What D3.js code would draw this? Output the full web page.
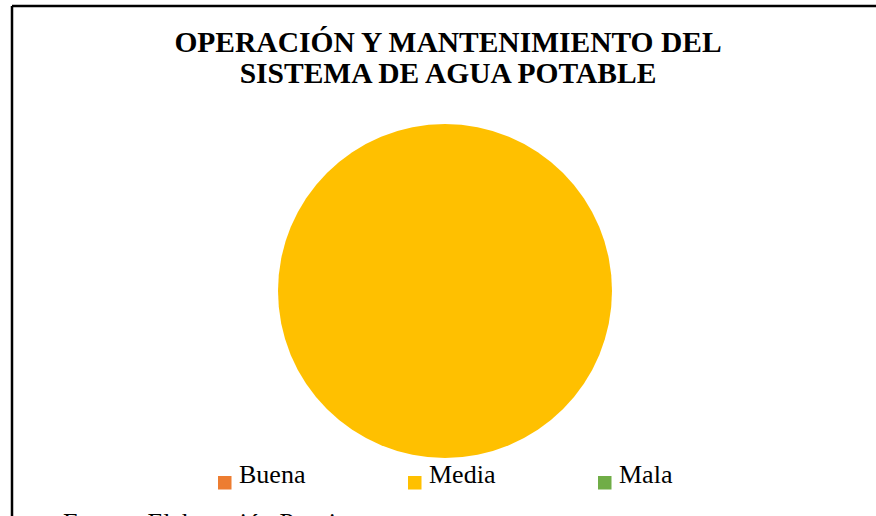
<!DOCTYPE html>
<html>
<head>
<meta charset="utf-8">
<script src="https://cdn.jsdelivr.net/npm/d3@7/dist/d3.min.js"></script>
<style>
  html, body { margin: 0; padding: 0; background: #fff; }
  svg { display: block; }
</style>
</head>
<body>
<svg id="chart" width="876" height="516"></svg>
<script>
// Estado de operación y mantenimiento (% de sistemas)
const categories = ["Buena", "Media", "Mala"];
const values = [0, 100, 0];
const colors = ["#ED7D31", "#FFC000", "#70AD47"];
const titleLines = ["OPERACIÓN Y MANTENIMIENTO DEL", "SISTEMA DE AGUA POTABLE"];
const sourceNote = "Fuente: Elaboración Propia";

const svg = d3.select("#chart");
const W = 876, H = 516;
const serif = "'Liberation Serif', 'Times New Roman', serif";

// Frame (top and left edges visible)
svg.append("line").attr("x1", 12).attr("y1", 6).attr("x2", W).attr("y2", 6)
  .attr("stroke", "#000").attr("stroke-width", 2.5);
svg.append("line").attr("x1", 12).attr("y1", 6).attr("x2", 12).attr("y2", H)
  .attr("stroke", "#000").attr("stroke-width", 2.5);

// Title
svg.append("g").selectAll("text").data(titleLines).join("text")
  .attr("x", 448).attr("y", (d, i) => 52 + i * 31)
  .attr("text-anchor", "middle")
  .attr("font-family", serif)
  .attr("font-weight", "bold").attr("font-size", 29.5)
  .attr("fill", "#000")
  .text(d => d);

// Pie
const cx = 445, cy = 291, r = 167;
const color = d3.scaleOrdinal().domain(categories).range(colors);
const pie = d3.pie().sort(null).value(d => d.value);
const arc = d3.arc().innerRadius(0).outerRadius(r);
const data = categories.map((c, i) => ({ cat: c, value: values[i] }));

svg.append("g").attr("transform", `translate(${cx},${cy})`)
  .selectAll("path").data(pie(data).filter(d => d.data.value > 0)).join("path")
  .attr("d", arc)
  .attr("fill", d => color(d.data.cat));

// Legend
const legendX = d3.scalePoint().domain(categories).range([218, 598]);
const lg = svg.append("g").selectAll("g").data(categories).join("g")
  .attr("transform", d => `translate(${legendX(d)},0)`);
lg.append("rect").attr("x", 0).attr("y", 476).attr("width", 13.5).attr("height", 13.5)
  .attr("fill", d => color(d));
lg.append("text").attr("x", 21).attr("y", 483)
  .attr("font-family", serif)
  .attr("font-size", 26).attr("fill", "#000")
  .text(d => d);

// Source note (runs past the lower edge of the frame)
svg.append("text").attr("x", 63).attr("y", 531)
  .attr("font-family", serif)
  .attr("font-size", 26).attr("fill", "#000")
  .text(sourceNote);
</script>
</body>
</html>
